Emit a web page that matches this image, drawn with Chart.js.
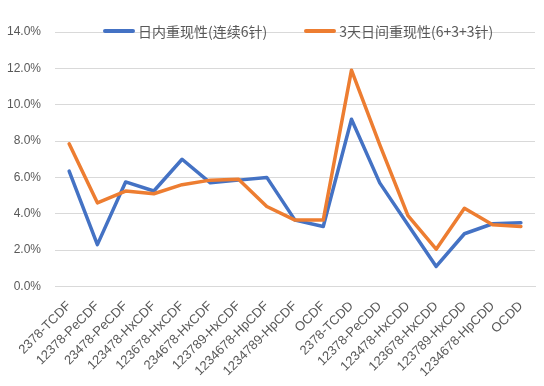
<!DOCTYPE html>
<html>
<head>
<meta charset="utf-8">
<script src="https://cdn.jsdelivr.net/npm/chart.js@4/dist/chart.umd.min.js"></script>
<style>
  body { margin: 0; background: #fff; }
  #wrap { position: relative; width: 544px; height: 386px; }
  #legend {
    position: absolute; top: 21px; left: 103px;
    display: flex; align-items: center;
    font-family: "Noto Sans CJK SC", sans-serif; font-size: 14px; color: #595959;
    white-space: nowrap; line-height: 20px;
  }
  .item { display: flex; align-items: center; margin-right: 37px; }
  .swatch { width: 32px; height: 4px; border-radius: 2px; margin-right: 3px; }
</style>
</head>
<body>
<div id="wrap">
  <canvas id="reproChart" width="544" height="386"></canvas>
  <div id="legend"></div>
</div>
<script>
const categories = [
  "2378-TCDF", "12378-PeCDF", "23478-PeCDF", "123478-HxCDF", "123678-HxCDF",
  "234678-HxCDF", "123789-HxCDF", "1234678-HpCDF", "1234789-HpCDF", "OCDF",
  "2378-TCDD", "12378-PeCDD", "123478-HxCDD", "123678-HxCDD", "123789-HxCDD",
  "1234678-HpCDD", "OCDD"
]
const intraDay = [6.35, 2.3, 5.75, 5.25, 7.0, 5.7, 5.85, 6.0, 3.65, 3.3, 9.2, 5.7, 3.4, 1.1, 2.9, 3.45, 3.5]
const interDay = [7.85, 4.6, 5.25, 5.1, 5.6, 5.85, 5.9, 4.4, 3.65, 3.65, 11.9, 7.8, 3.9, 2.05, 4.3, 3.4, 3.3]
const seriesNames = ["日内重现性(连续6针)", "3天日间重现性(6+3+3针)"]
const yTicks = [0, 2, 4, 6, 8, 10, 12, 14]

function createReproChart() {
  const colors = ["#4472C4", "#ED7D31"]
  const values = [intraDay, interDay]

  const datasets = values.map((v, i) => ({
    label: seriesNames[i],
    data: v,
    borderColor: colors[i],
    backgroundColor: colors[i],
    borderWidth: 3.5,
    pointRadius: 0,
    tension: 0,
    borderCapStyle: "round",
    borderJoinStyle: "round",
    order: 1 - i,
  }))

  const config = {
    type: "line",
    data: { labels: categories, datasets: datasets },
    options: {
      responsive: false,
      animation: false,
      // the rotated first label pushes the plot right; pull it back
      layout: { padding: { top: 32, left: -7, right: 9, bottom: 2 } },
      plugins: { legend: { display: false }, tooltip: { enabled: false } },
      scales: {
        x: {
          offset: true,
          grid: { display: false },
          border: { color: "#d9d9d9" },
          ticks: {
            color: "#595959", font: { family: "'Liberation Sans', sans-serif", size: 13 },
            minRotation: 45, maxRotation: 45, autoSkip: false, padding: 4,
          },
        },
        y: {
          min: yTicks[0],
          max: yTicks[yTicks.length - 1],
          afterBuildTicks: (axis) => { axis.ticks = yTicks.map((t) => ({ value: t })) },
          grid: { color: "#d9d9d9", drawTicks: false },
          border: { display: false },
          ticks: {
            color: "#595959", font: { family: "'Liberation Sans', sans-serif", size: 12 }, padding: 14,
            callback: (v) => v.toFixed(1) + "%",
          },
        },
      },
    },
  }

  const ctx = document.getElementById("reproChart")
  new Chart(ctx, config)

  const legend = document.getElementById("legend")
  seriesNames.forEach((name, i) => {
    const item = document.createElement("div")
    item.className = "item"
    item.innerHTML = `<span class="swatch" style="background:${colors[i]}"></span><span>${name}</span>`
    legend.appendChild(item)
  })
}

document.addEventListener("DOMContentLoaded", () => {
  createReproChart()
})
</script>
</body>
</html>
